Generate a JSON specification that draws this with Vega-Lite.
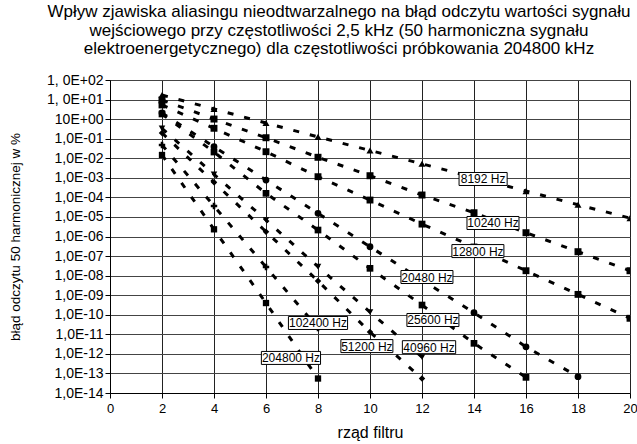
{
  "$schema": "https://vega.github.io/schema/vega-lite/v6.json",
  "autosize": {"type": "none"},
  "width": 520,
  "height": 313,
  "padding": {"left": 110, "top": 80, "right": 7, "bottom": 51},
  "background": "white",
  "config": {
    "view": {"stroke": null},
    "font": "Liberation Sans",
    "axis": {"labelFont": "Liberation Sans", "titleFont": "Liberation Sans", "labelColor": "black", "titleColor": "black", "domainColor": "black", "tickColor": "black", "titleFontWeight": "normal"}
  },
  "title": {
    "text": ["Wpływ zjawiska aliasingu nieodtwarzalnego na błąd odczytu wartości sygnału", "wejściowego przy częstotliwości 2,5 kHz (50 harmoniczna sygnału", "elektroenergetycznego) dla częstotliwości próbkowania 204800 kHz"],
    "font": "Liberation Sans",
    "fontSize": 17,
    "fontWeight": "normal",
    "color": "black",
    "anchor": "middle",
    "dx": -31,
    "offset": 15,
    "lineHeight": 18.5
  },
  "datasets": {
    "series": [
      {"f": "8192 Hz", "n": 2, "e": 17}, {"f": "8192 Hz", "n": 4, "e": 3.3}, {"f": "8192 Hz", "n": 6, "e": 0.63}, {"f": "8192 Hz", "n": 8, "e": 0.123}, {"f": "8192 Hz", "n": 10, "e": 0.025}, {"f": "8192 Hz", "n": 12, "e": 0.0052}, {"f": "8192 Hz", "n": 14, "e": 0.00105}, {"f": "8192 Hz", "n": 16, "e": 2.1e-4}, {"f": "8192 Hz", "n": 18, "e": 4.2e-5}, {"f": "8192 Hz", "n": 20, "e": 8.7e-6},
      {"f": "10240 Hz", "n": 2, "e": 9.5}, {"f": "10240 Hz", "n": 4, "e": 1.01}, {"f": "10240 Hz", "n": 6, "e": 0.112}, {"f": "10240 Hz", "n": 8, "e": 0.0112}, {"f": "10240 Hz", "n": 10, "e": 1.28e-3}, {"f": "10240 Hz", "n": 12, "e": 1.32e-4}, {"f": "10240 Hz", "n": 14, "e": 1.64e-5}, {"f": "10240 Hz", "n": 16, "e": 1.56e-6}, {"f": "10240 Hz", "n": 18, "e": 1.67e-7}, {"f": "10240 Hz", "n": 20, "e": 1.78e-8},
      {"f": "12800 Hz", "n": 2, "e": 5.3}, {"f": "12800 Hz", "n": 4, "e": 0.34}, {"f": "12800 Hz", "n": 6, "e": 0.0216}, {"f": "12800 Hz", "n": 8, "e": 1.14e-3}, {"f": "12800 Hz", "n": 10, "e": 7.3e-5}, {"f": "12800 Hz", "n": 12, "e": 4.3e-6}, {"f": "12800 Hz", "n": 14, "e": 2.9e-7}, {"f": "12800 Hz", "n": 16, "e": 1.78e-8}, {"f": "12800 Hz", "n": 18, "e": 1.1e-9}, {"f": "12800 Hz", "n": 20, "e": 6.6e-11},
      {"f": "20480 Hz", "n": 2, "e": 2.06}, {"f": "20480 Hz", "n": 4, "e": 0.039}, {"f": "20480 Hz", "n": 6, "e": 7.7e-4}, {"f": "20480 Hz", "n": 8, "e": 1.53e-5}, {"f": "20480 Hz", "n": 10, "e": 3.0e-7}, {"f": "20480 Hz", "n": 12, "e": 5.96e-9}, {"f": "20480 Hz", "n": 14, "e": 1.27e-10}, {"f": "20480 Hz", "n": 16, "e": 2.3e-12}, {"f": "20480 Hz", "n": 18, "e": 6.8e-14},
      {"f": "25600 Hz", "n": 2, "e": 1.83}, {"f": "25600 Hz", "n": 4, "e": 0.0208}, {"f": "25600 Hz", "n": 6, "e": 1.61e-4}, {"f": "25600 Hz", "n": 8, "e": 2.14e-6}, {"f": "25600 Hz", "n": 10, "e": 2.36e-8}, {"f": "25600 Hz", "n": 12, "e": 3.14e-10}, {"f": "25600 Hz", "n": 14, "e": 3.46e-12}, {"f": "25600 Hz", "n": 16, "e": 6.3e-14},
      {"f": "40960 Hz", "n": 2, "e": 0.34}, {"f": "40960 Hz", "n": 4, "e": 1.51e-3}, {"f": "40960 Hz", "n": 6, "e": 6.97e-6}, {"f": "40960 Hz", "n": 8, "e": 2.85e-8}, {"f": "40960 Hz", "n": 10, "e": 1.38e-10}, {"f": "40960 Hz", "n": 12, "e": 6.9e-13},
      {"f": "51200 Hz", "n": 2, "e": 0.195}, {"f": "51200 Hz", "n": 4, "e": 5.9e-4}, {"f": "51200 Hz", "n": 6, "e": 1.76e-6}, {"f": "51200 Hz", "n": 8, "e": 5.3e-9}, {"f": "51200 Hz", "n": 10, "e": 1.31e-11}, {"f": "51200 Hz", "n": 12, "e": 5.5e-14},
      {"f": "102400 Hz", "n": 2, "e": 0.0475}, {"f": "102400 Hz", "n": 4, "e": 3.6e-5}, {"f": "102400 Hz", "n": 6, "e": 2.75e-8}, {"f": "102400 Hz", "n": 8, "e": 2.1e-11},
      {"f": "204800 Hz", "n": 2, "e": 0.0147}, {"f": "204800 Hz", "n": 4, "e": 2.33e-6}, {"f": "204800 Hz", "n": 6, "e": 3.97e-10}, {"f": "204800 Hz", "n": 8, "e": 5.5e-14}
    ],
    "labels": [
      {"label": "8192 Hz", "n": 14.35, "e": 8.7e-4},
      {"label": "10240 Hz", "n": 14.73, "e": 4.9e-6},
      {"label": "12800 Hz", "n": 14.15, "e": 1.8e-7},
      {"label": "20480 Hz", "n": 12.19, "e": 8.5e-9},
      {"label": "25600 Hz", "n": 12.42, "e": 5.4e-11},
      {"label": "40960 Hz", "n": 12.27, "e": 2.2e-12},
      {"label": "51200 Hz", "n": 9.88, "e": 2.5e-12},
      {"label": "102400 Hz", "n": 8.0, "e": 3.8e-11},
      {"label": "204800 Hz", "n": 6.96, "e": 6.2e-13}
    ]
  },
  "encoding": {
    "x": {
      "field": "n", "type": "quantitative",
      "scale": {"domain": [0, 20], "nice": false, "zero": false},
      "axis": {"values": [0, 2, 4, 6, 8, 10, 12, 14, 16, 18, 20], "title": "rząd filtru", "titleFontSize": 16, "titlePadding": 9, "labelFontSize": 13, "labelPadding": 4, "tickSize": 5, "grid": true, "gridColor": "#222", "gridWidth": 1, "gridOpacity": 1, "labelFlush": false}
    },
    "y": {
      "field": "e", "type": "quantitative",
      "scale": {"type": "log", "domain": [1e-14, 100], "nice": false},
      "axis": {
        "values": [1e-14, 1e-13, 1e-12, 1e-11, 1e-10, 1e-9, 1e-8, 1e-7, 1e-6, 1e-5, 1e-4, 1e-3, 1e-2, 1e-1, 1, 10, 100],
        "labelExpr": "datum.value > 50 ? '1, 0E+02' : datum.value > 5 ? '1, 0E+01' : datum.value > 0.5 ? '10E+00' : '1,0E-' + (round(-log(datum.value)/LN10) < 10 ? '0' : '') + round(-log(datum.value)/LN10)",
        "title": "błąd odczytu 50 harmonicznej w %", "titleFontSize": 13.5, "titlePadding": 24,
        "labelFontSize": 14, "labelPadding": 2, "tickSize": 5, "grid": true, "gridColor": "#444", "gridWidth": 1, "gridOpacity": 1, "labelFlush": false
      }
    }
  },
  "layer": [
    {
      "data": {"name": "series"},
      "mark": {"type": "line", "color": "black", "strokeWidth": 3, "strokeDash": [6, 11], "clip": true},
      "encoding": {"detail": {"field": "f", "type": "nominal"}}
    },
    {
      "data": {"name": "series"},
      "mark": {"type": "point", "filled": true, "color": "black", "opacity": 1, "clip": true},
      "encoding": {
        "shape": {"field": "f", "type": "nominal", "legend": null,
          "scale": {"domain": ["8192 Hz", "10240 Hz", "12800 Hz", "20480 Hz", "25600 Hz", "40960 Hz", "51200 Hz", "102400 Hz", "204800 Hz"],
                    "range": ["triangle-up", "square", "square", "circle", "square", "triangle-down", "diamond", "cross", "square"]}},
        "size": {"field": "f", "type": "nominal", "legend": null,
          "scale": {"domain": ["8192 Hz", "10240 Hz", "12800 Hz", "20480 Hz", "25600 Hz", "40960 Hz", "51200 Hz", "102400 Hz", "204800 Hz"],
                    "range": [50, 40, 110, 90, 110, 50, 45, 30, 45]}}
      }
    },
    {
      "data": {"name": "labels"},
      "mark": {"type": "point", "filled": true, "fill": "white", "stroke": "black", "strokeWidth": 1, "opacity": 1, "size": 169},
      "encoding": {
        "shape": {"field": "label", "type": "nominal", "legend": null,
          "scale": {"domain": ["8192 Hz", "10240 Hz", "12800 Hz", "20480 Hz", "25600 Hz", "40960 Hz", "51200 Hz", "102400 Hz", "204800 Hz"],
                    "range": ["M-3.7,-1H3.7V1H-3.7Z", "M-4,-1H4V1H-4Z", "M-4,-1H4V1H-4Z", "M-4,-1H4V1H-4Z", "M-4,-1H4V1H-4Z", "M-4.1,-1H4.1V1H-4.1Z", "M-4,-1H4V1H-4Z", "M-4.55,-1H4.55V1H-4.55Z", "M-4.55,-1H4.55V1H-4.55Z"]}}
      }
    },
    {
      "data": {"name": "labels"},
      "mark": {"type": "text", "font": "Liberation Sans", "fontSize": 12, "color": "black", "align": "center", "baseline": "middle", "dy": 0.5},
      "encoding": {"text": {"field": "label", "type": "nominal"}}
    }
  ],
  "resolve": {"scale": {"shape": "independent", "size": "independent"}}
}
